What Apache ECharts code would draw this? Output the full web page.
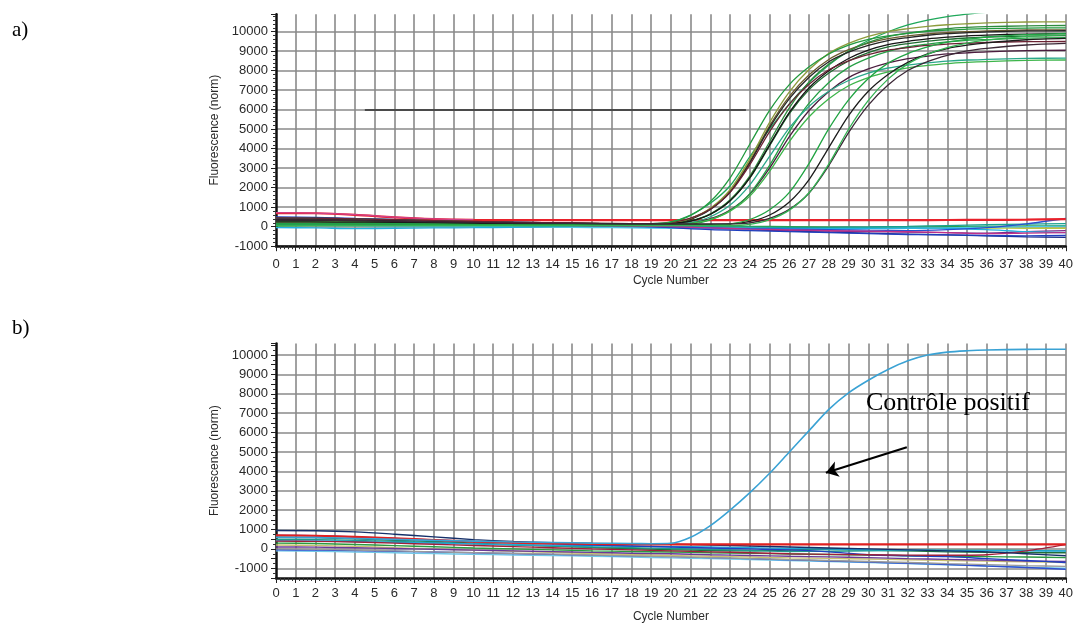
<!DOCTYPE html>
<html><head><meta charset="utf-8">
<script src="https://cdn.jsdelivr.net/npm/echarts@6/dist/echarts.min.js"></script>
<style>html,body{margin:0;padding:0;background:#fff}#c{width:1076px;height:624px}</style>
</head><body><div id="c"></div>
<script>
// ---------- cycle positions ----------
const CYC_AMP = [0,3,6,9,12,15,18,19,20,21,22,23,24,25,26,27,28,29,30,31,32,33,34,35,36,38,40];
const CYC_BASE = [0,2,4,6,8,10,12,14,16,18,20,22,24,26,28,30,32,34,36,38,40];
const CYC_POS = [0,2,4,6,8,10,12,14,16,18,19,20,21,22,23,24,25,26,27,28,29,30,31,32,33,34,35,36,38,40];

// ---------- tick labels ----------
const X_TICKS = Array.from({length: 41}, (_, i) => i); // 0..40 cycle numbers
const Y_LABEL_STEP = 1000;

// ---------- a) amplified samples (fluorescence, norm) ----------
const A01 = [300,280,240,200,170,150,130,160,250,600,1200,2100,3600,5000,6300,7400,8300,9000,9550,10000,10350,10600,10780,10900,11000,11100,11150];
const A02 = [250,240,220,190,160,140,120,120,180,420,930,1840,3350,5170,6680,7790,8580,9080,9420,9650,9790,9890,9960,10000,10040,10090,10100];
const A03 = [350,330,290,240,200,170,150,150,170,300,660,1380,2610,4360,6100,7430,8350,9000,9450,9750,9930,10060,10160,10220,10260,10300,10320];
const A04 = [150,150,140,120,100,90,80,80,140,380,880,1780,3280,5080,6570,7670,8460,8950,9300,9550,9700,9820,9900,9950,9990,10040,10050];
const A05 = [450,420,360,290,230,190,160,160,180,300,640,1330,2500,4160,5800,7030,7880,8500,8930,9220,9390,9520,9610,9680,9720,9780,9800];
const A06 = [250,240,220,190,160,140,120,120,180,430,950,1900,3470,5350,6920,8060,8890,9400,9760,10010,10160,10280,10360,10410,10450,10500,10510];
const A07 = [350,330,290,240,200,170,150,150,150,200,410,860,1670,3010,4620,5960,6940,7650,8090,8400,8620,8750,8860,8920,8970,9030,9050];
const A08 = [50,60,60,60,60,60,60,60,60,120,350,830,1700,3150,4890,6340,7400,8170,8650,8990,9230,9370,9480,9560,9600,9670,9700];
const A09 = [150,150,140,120,100,90,80,80,100,210,510,1110,2150,3610,5070,6180,6950,7500,7880,8140,8290,8400,8490,8550,8580,8630,8650];
const A10 = [250,240,220,190,160,140,120,120,120,170,370,800,1570,2840,4370,5640,6560,7230,7650,7940,8150,8270,8370,8430,8470,8530,8550];
const A11 = [350,330,290,240,200,170,150,150,170,290,640,1330,2520,4200,5860,7130,8000,8630,9060,9340,9510,9630,9720,9790,9830,9880,9900];
const A12 = [450,420,360,290,230,190,160,160,210,440,910,1760,3180,4880,6290,7310,8050,8510,8830,9060,9190,9300,9370,9410,9450,9490,9500];
const A13 = [150,150,140,120,100,90,80,100,230,580,1290,2510,4240,5970,7290,8200,8860,9310,9610,9790,9920,10020,10090,10130,10160,10190,10200];
const A14 = [250,240,220,190,160,140,120,120,120,120,120,140,270,600,1270,2420,4060,5700,6950,7810,8430,8860,9140,9310,9430,9590,9660];
const A15 = [150,150,140,120,100,90,80,80,80,80,80,140,370,870,1760,3250,5030,6510,7600,8390,8880,9220,9470,9610,9730,9850,9920];
const A16 = [350,330,290,240,200,170,150,150,150,150,150,150,200,430,890,1730,3140,4830,6240,7270,8010,8470,8790,9020,9150,9320,9400];
const A17 = [50,60,60,60,60,60,60,60,60,60,60,60,120,360,850,1740,3220,5000,6480,7570,8350,8840,9180,9420,9570,9760,9840];

// ---------- a) non-amplified samples ----------
const TA_RED    = [700,690,610,480,390,350,340,335,335,335,335,335,335,335,340,340,340,345,350,360,390];
const TA_PINK   = [720,700,620,490,400,360,null,null,null,null,null,null,null,null,null,null,null,null,null,null,null];
const TA_MAG    = [200,190,170,150,130,110,90,70,50,30,0,-60,-120,-160,-200,-230,-260,-300,-360,-330,-300];
const TA_BLUE   = [500,480,420,380,320,300,250,200,150,50,-50,-150,-200,-250,-300,-350,-400,-420,-450,-470,-450];
const TA_BLUE2  = [250,240,200,180,160,150,130,100,60,20,-20,-60,-100,-120,-150,-180,-200,-150,-50,150,420];
const TA_CYAN   = [-50,-60,-100,-80,-60,-50,-30,0,20,0,-30,-60,-80,-100,-100,-80,-60,-80,-150,-250,-300];
const TA_CYAN2  = [100,90,60,40,30,20,0,-20,-40,-60,-80,-100,-120,-130,-120,-100,-90,-60,-20,0,30];
const TA_TEAL   = [300,290,250,200,160,130,110,90,70,50,20,0,-20,-40,-30,-10,20,60,100,130,160];
const TA_GREEN  = [350,350,330,270,220,180,150,130,110,90,80,50,20,0,-20,-30,-20,0,20,40,50];
const TA_PURPLE = [180,170,150,120,100,80,60,40,20,0,-30,-80,-150,-190,-220,-250,-280,-300,-330,-250,-200];
const TA_LIME   = [150,140,120,100,80,70,60,50,40,30,20,0,-20,-30,-40,-50,-60,-60,-70,-80,-80];
const TA_NAVY   = [420,400,360,320,280,240,200,150,100,50,0,-80,-150,-220,-280,-330,-380,-420,-470,-520,-550];

// ---------- b) positive control ----------
const B_POS = [600,580,540,490,440,400,360,330,300,280,270,290,600,1200,2000,2900,3900,5000,6100,7200,8050,8700,9250,9700,10000,10150,10220,10260,10290,10300];

// ---------- b) negative samples ----------
const B_NAVY    = [950,940,880,760,620,480,380,320,280,260,240,200,150,100,50,0,-50,-100,-150,-250,-350];
const B_RED     = [700,680,620,540,460,380,320,280,260,240,230,230,230,230,230,230,230,230,230,230,230];
const B_DARKRED = [400,390,360,300,240,180,120,60,0,-50,-100,-150,-200,-250,-280,-300,-320,-330,-300,-100,220];
const B_BLUE    = [700,680,620,540,460,380,320,260,200,150,100,50,0,-50,-150,-300,-350,-400,-500,-600,-700];
const B_CYAN    = [420,410,380,340,300,260,220,190,160,140,120,100,60,20,-10,-40,-60,-80,-90,-100,-110];
const B_TEAL    = [500,480,440,390,330,260,200,150,100,60,20,-30,-80,-130,-120,-100,-80,-60,-60,-80,-100];
const B_GREEN   = [300,280,230,170,110,50,0,-50,-100,-130,-160,-200,-230,-260,-290,-320,-350,-380,-400,-420,-450];
const B_DKGREEN = [600,580,520,450,380,300,220,150,80,20,-40,-80,-100,-60,-20,-60,-100,-150,-170,-190,-200];
const B_KHAKI   = [200,180,130,60,0,-60,-120,-180,-240,-290,-340,-380,-420,-460,-490,-520,-560,-600,-630,-670,-700];
const B_GRAY    = [0,-20,-60,-100,-150,-190,-230,-270,-310,-350,-400,-450,-500,-550,-600,-650,-700,-760,-810,-860,-900];
const B_LTBLUE  = [-100,-120,-160,-200,-240,-280,-310,-340,-380,-420,-460,-500,-550,-600,-650,-700,-760,-820,-880,-940,-1000];
const B_PURPLE  = [100,90,60,20,-20,-60,-100,-140,-180,-220,-250,-300,-340,-380,-410,-450,-500,-540,-580,-620,-650];
const B_BLUE2   = [-50,-60,-90,-120,-160,-200,-240,-280,-320,-360,-400,-450,-500,-560,-620,-680,-740,-800,-880,-960,-1050];

// ---------- annotations (data coordinates) ----------
const THRESH_A = [[4.5, 6000], [23.8, 6000]];
const ARROW_B = [[31.95, 5240], [27.85, 3930]];

// ---------- styles ----------
const AMP_SETS = [A01,A02,A03,A04,A05,A06,A07,A08,A09,A10,A11,A12,A13,A14,A15,A16,A17];
const AMP_COLORS = ['#1fa85a','#6b5a2e','#2e8b3e','#262626','#1e6b30','#8c9b3c','#4b1d3f','#25a045','#2aa88a','#3db54a','#151515','#6b2233','#229a3f','#1c1c1c','#21a443','#3b2836','#33b152'];
const TA_SETS = [TA_NAVY,TA_LIME,TA_PURPLE,TA_GREEN,TA_TEAL,TA_CYAN2,TA_CYAN,TA_BLUE2,TA_BLUE,TA_MAG,TA_RED,TA_PINK];
const TA_COLORS = ['#1a2a8a','#b8c840','#7a2a8a','#2aa048','#18a090','#4cc8e8','#20b0e0','#2850d0','#1f3fbf','#c0308a','#e8202a','#d0408a'];
const B_SETS = [B_LTBLUE,B_BLUE2,B_GRAY,B_KHAKI,B_PURPLE,B_GREEN,B_DKGREEN,B_TEAL,B_CYAN,B_BLUE,B_DARKRED,B_NAVY,B_RED];
const B_COLORS = ['#70c8e8','#3050d0','#9a9a9a','#c8c070','#6a3a9a','#2a9a40','#1f6e3a','#209a8a','#20a8d8','#2040c0','#a0203a','#15306a','#e02020'];

const GRID_COLOR = '#8a8a8a';
const TXT = '#2a2a2a';
const FONT = 'Liberation Sans';

function pairs(xs, ys){ return xs.map((x,i)=>[x, ys[i]]); }

function xAxis(gi, labelMargin, nameGap){
  return {
    type:'value', gridIndex: gi, min: 0, max: 40, interval: 1,
    name:'Cycle Number', nameLocation:'middle', nameGap: nameGap,
    nameTextStyle:{fontFamily:FONT, fontSize:12, color:TXT},
    axisLine:{show:true, onZero:false, lineStyle:{color:'#111', width:2.5}},
    axisTick:{show:true, length:5, lineStyle:{color:'#222', width:1}},
    minorTick:{show:true, splitNumber:5, length:3, lineStyle:{color:'#333', width:1}},
    axisLabel:{margin:labelMargin, fontFamily:FONT, fontSize:13, color:TXT,
      formatter: v => (X_TICKS.indexOf(v) >= 0 ? String(v) : '')},
    splitLine:{show:true, showMinLine:false, lineStyle:{color:GRID_COLOR, width:1.6}}
  };
}

function yAxis(gi, min, max, interval, splitColors, minorSplit){
  return {
    type:'value', gridIndex: gi, min: min, max: max, interval: interval,
    name:'Fluorescence (norm)', nameLocation:'middle', nameGap: 49,
    nameTextStyle:{fontFamily:FONT, fontSize:12, color:TXT},
    axisLine:{show:true, lineStyle:{color:'#111', width:2.5}},
    axisTick:{show:true, length:5, lineStyle:{color:'#222', width:1}},
    minorTick:{show:true, splitNumber:minorSplit, length:3, lineStyle:{color:'#333', width:1}},
    axisLabel:{margin:8, fontFamily:FONT, fontSize:13, color:TXT, showMaxLabel:false,
      formatter: v => (v % Y_LABEL_STEP === 0 ? String(v) : '')},
    splitLine:{show:true, showMaxLine:false, lineStyle:{color:splitColors, width:1.6}}
  };
}

const series = [];
TA_SETS.forEach((d,i)=>{
  series.push({type:'line', xAxisIndex:0, yAxisIndex:0, data:pairs(CYC_BASE,d), showSymbol:false, smooth:0.3,
    silent:true, lineStyle:{color:TA_COLORS[i], width: (d===TA_RED ? 2.2 : 1.3)}, z: 3});
});
AMP_SETS.forEach((d,i)=>{
  series.push({type:'line', xAxisIndex:0, yAxisIndex:0, data:pairs(CYC_AMP,d), showSymbol:false, smooth:0.3,
    silent:true, lineStyle:{color:AMP_COLORS[i], width:1.3}, z: 4});
});
// threshold-like dark segment in a)
series.push({type:'line', xAxisIndex:0, yAxisIndex:0, data:[], silent:true,
  markLine:{silent:true, symbol:'none', label:{show:false},
    lineStyle:{color:'#4a4a4a', width:2, type:'solid'},
    data:[[{coord:THRESH_A[0]},{coord:THRESH_A[1]}]]}});
B_SETS.forEach((d,i)=>{
  series.push({type:'line', xAxisIndex:1, yAxisIndex:1, data:pairs(CYC_BASE,d), showSymbol:false, smooth:0.3,
    silent:true, lineStyle:{color:B_COLORS[i], width:(d===B_RED ? 2.2 : 1.4)}, z: 3});
});
series.push({type:'line', xAxisIndex:1, yAxisIndex:1, data:pairs(CYC_POS,B_POS), showSymbol:false, smooth:0.3,
  silent:true, lineStyle:{color:'#3aa2d4', width:1.6}, z: 5,
  markLine:{silent:true, symbol:['none','arrow'], symbolSize:12, label:{show:false},
    lineStyle:{color:'#000', width:2.2, type:'solid'},
    data:[[{coord:ARROW_B[0]},{coord:ARROW_B[1]}]]}});

const option = {
  animation:false,
  backgroundColor:'#fff',
  grid:[
    {left:276, right:7, top:14.2, height:232},
    {left:276, right:7, top:343.4, height:234.7}
  ],
  xAxis:[ xAxis(0, 12, 28), xAxis(1, 9, 33) ],
  yAxis:[
    yAxis(0, -1000, 10900, 1000, GRID_COLOR, 5),
    yAxis(1, -1500, 10600, 500, ['rgba(0,0,0,0)', GRID_COLOR], 2)
  ],
  graphic:[
    {type:'text', left:12, top:20, style:{text:'a)', font:'21px "Liberation Serif"', fill:'#000'}},
    {type:'text', left:12, top:318, style:{text:'b)', font:'21px "Liberation Serif"', fill:'#000'}},
    {type:'text', left:866, top:390, z:10, style:{text:'Contrôle positif', font:'26px "Liberation Serif"', fill:'#000'}}
  ],
  series: series
};
const chart = echarts.init(document.getElementById('c'));
chart.setOption(option);
</script></body></html>
